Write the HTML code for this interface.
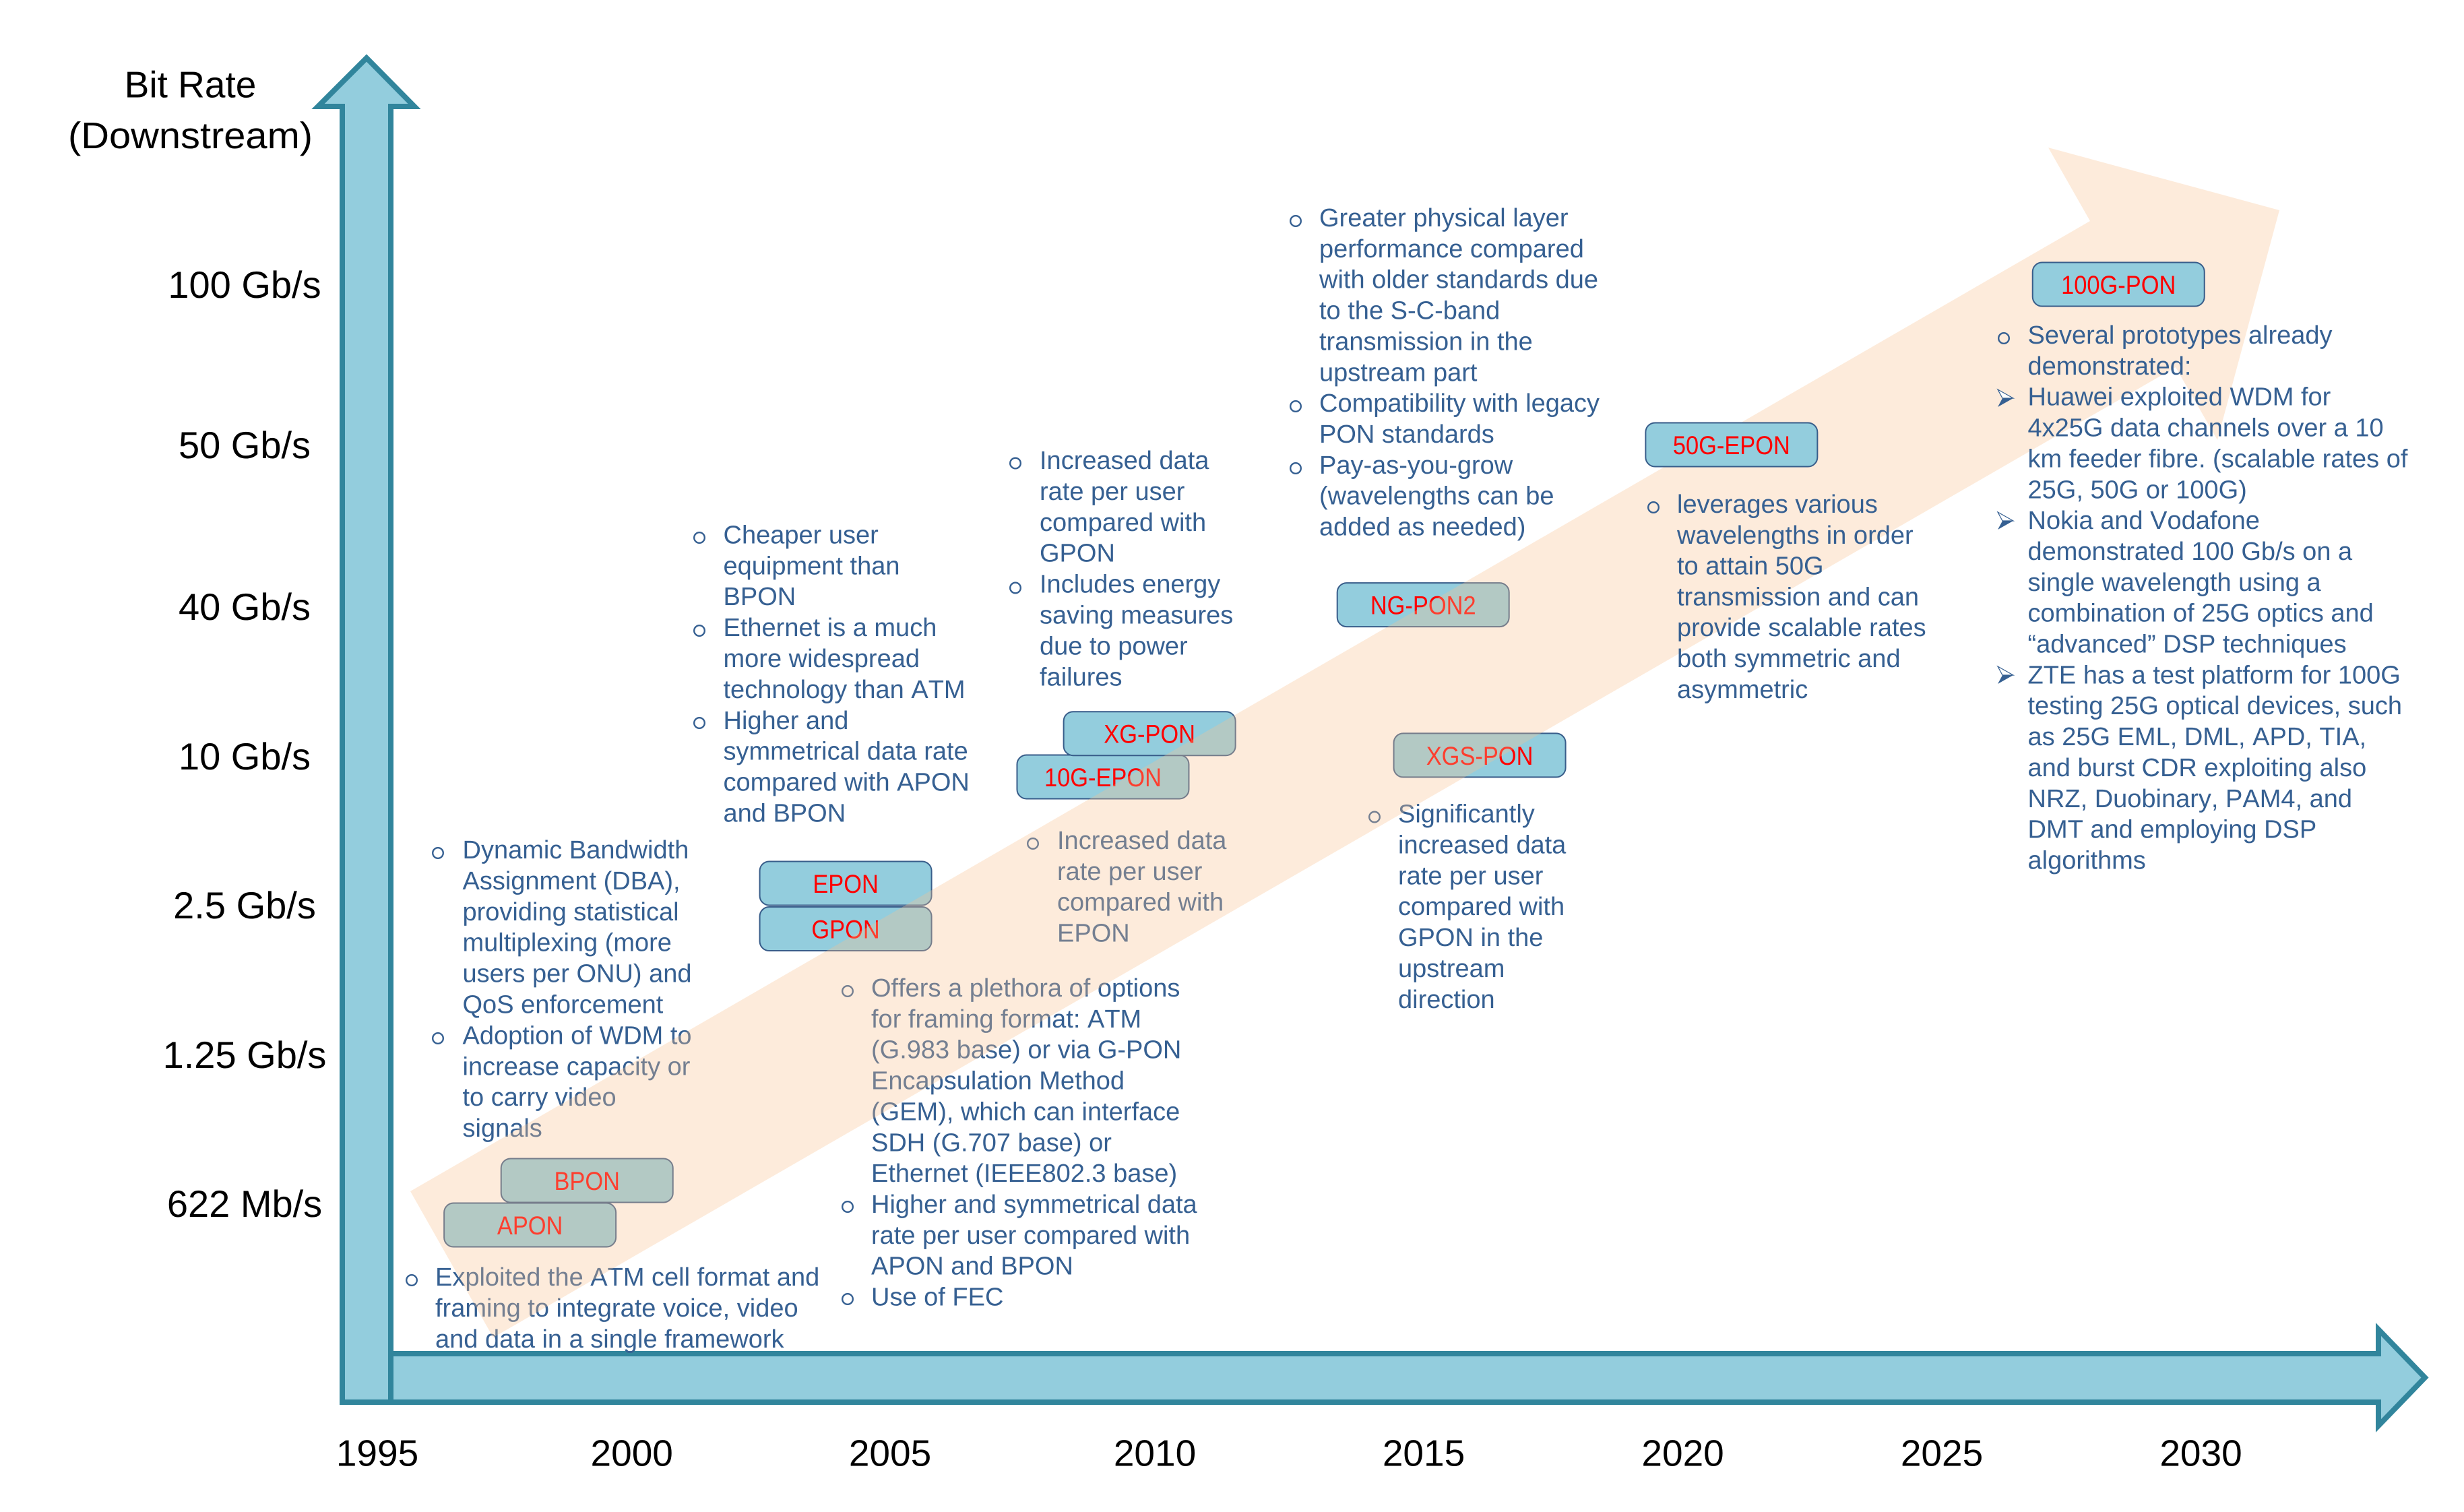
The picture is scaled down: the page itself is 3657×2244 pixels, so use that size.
<!DOCTYPE html>
<html lang="en">
<head>
<meta charset="utf-8">
<title>PON standards evolution timeline</title>
<style>
html,body{margin:0;padding:0;background:#fff;width:3657px;height:2244px;overflow:hidden}
svg{display:block}
text{font-family:"Liberation Sans",Arial,sans-serif;text-rendering:geometricPrecision;font-kerning:none}
.note{font-size:38px;fill:#366092}
.bullet{fill:none;stroke:#366092;stroke-width:2.4}
.axis-label{font-size:55px;fill:#000}
.axis-shape{fill:#93CDDD;stroke:#31859C;stroke-width:8;stroke-miterlimit:10;stroke-linejoin:miter}
</style>
</head>
<body>
<svg xmlns="http://www.w3.org/2000/svg" width="3657" height="2244" viewBox="0 0 3657 2244">
<rect width="3657" height="2244" fill="#fff"/>

<path class="axis-shape" d="M580 2009H3530V1973L3599 2044.5L3530 2116V2081H580Z"/>
<path class="axis-shape" d="M508 2081V158H472L544 86L615 158H580V2081Z"/>

<g id="boxes-behind"></g>

<g>
<circle class="bullet" cx="611" cy="1900" r="7.8"/>
<text class="note" y="1908"><tspan x="646" dy="0">Exploited the ATM cell format and</tspan><tspan x="646" dy="45.9">framing to integrate voice, video</tspan><tspan x="646" dy="45.9">and data in a single framework</tspan></text>
</g>

<g>
<circle class="bullet" cx="650" cy="1266" r="7.8"/>
<circle class="bullet" cx="650" cy="1541" r="7.8"/>
<text class="note" y="1274"><tspan x="686.5" dy="0">Dynamic Bandwidth</tspan><tspan x="686.5" dy="45.9">Assignment (DBA),</tspan><tspan x="686.5" dy="45.9">providing statistical</tspan><tspan x="686.5" dy="45.9">multiplexing (more</tspan><tspan x="686.5" dy="45.9">users per ONU) and</tspan><tspan x="686.5" dy="45.9">QoS enforcement</tspan><tspan x="686.5" dy="45.9">Adoption of WDM to</tspan><tspan x="686.5" dy="45.9">increase capacity or</tspan><tspan x="686.5" dy="45.9">to carry video</tspan><tspan x="686.5" dy="45.9">signals</tspan></text>
</g>

<g>
<circle class="bullet" cx="1038" cy="798" r="7.8"/>
<circle class="bullet" cx="1038" cy="936" r="7.8"/>
<circle class="bullet" cx="1038" cy="1073" r="7.8"/>
<text class="note" y="806.4"><tspan x="1073.5" dy="0">Cheaper user</tspan><tspan x="1073.5" dy="45.9">equipment than</tspan><tspan x="1073.5" dy="45.9">BPON</tspan><tspan x="1073.5" dy="45.9">Ethernet is a much</tspan><tspan x="1073.5" dy="45.9">more widespread</tspan><tspan x="1073.5" dy="45.9">technology than ATM</tspan><tspan x="1073.5" dy="45.9">Higher and</tspan><tspan x="1073.5" dy="45.9">symmetrical data rate</tspan><tspan x="1073.5" dy="45.9">compared with APON</tspan><tspan x="1073.5" dy="45.9">and BPON</tspan></text>
</g>

<g>
<circle class="bullet" cx="1258" cy="1471" r="7.8"/>
<circle class="bullet" cx="1258" cy="1791" r="7.8"/>
<circle class="bullet" cx="1258" cy="1928" r="7.8"/>
<text class="note" y="1479"><tspan x="1293" dy="0">Offers a plethora of options</tspan><tspan x="1293" dy="45.85">for framing format: ATM</tspan><tspan x="1293" dy="45.85">(G.983 base) or via G-PON</tspan><tspan x="1293" dy="45.85">Encapsulation Method</tspan><tspan x="1293" dy="45.85">(GEM), which can interface</tspan><tspan x="1293" dy="45.85">SDH (G.707 base) or</tspan><tspan x="1293" dy="45.85">Ethernet (IEEE802.3 base)</tspan><tspan x="1293" dy="45.85">Higher and symmetrical data</tspan><tspan x="1293" dy="45.85">rate per user compared with</tspan><tspan x="1293" dy="45.85">APON and BPON</tspan><tspan x="1293" dy="45.85">Use of FEC</tspan></text>
</g>

<g>
<circle class="bullet" cx="1507" cy="687.5" r="7.8"/>
<circle class="bullet" cx="1507" cy="872.5" r="7.8"/>
<text class="note" y="696"><tspan x="1543" dy="0">Increased data</tspan><tspan x="1543" dy="45.9">rate per user</tspan><tspan x="1543" dy="45.9">compared with</tspan><tspan x="1543" dy="45.9">GPON</tspan><tspan x="1543" dy="45.9">Includes energy</tspan><tspan x="1543" dy="45.9">saving measures</tspan><tspan x="1543" dy="45.9">due to power</tspan><tspan x="1543" dy="45.9">failures</tspan></text>
</g>

<g>
<circle class="bullet" cx="1533" cy="1252" r="7.8"/>
<text class="note" y="1260"><tspan x="1569" dy="0">Increased data</tspan><tspan x="1569" dy="45.8">rate per user</tspan><tspan x="1569" dy="45.8">compared with</tspan><tspan x="1569" dy="45.8">EPON</tspan></text>
</g>

<g>
<circle class="bullet" cx="1923" cy="328" r="7.8"/>
<circle class="bullet" cx="1923" cy="603" r="7.8"/>
<circle class="bullet" cx="1923" cy="695" r="7.8"/>
<text class="note" y="336"><tspan x="1958" dy="0">Greater physical layer</tspan><tspan x="1958" dy="45.85">performance compared</tspan><tspan x="1958" dy="45.85">with older standards due</tspan><tspan x="1958" dy="45.85">to the S-C-band</tspan><tspan x="1958" dy="45.85">transmission in the</tspan><tspan x="1958" dy="45.85">upstream part</tspan><tspan x="1958" dy="45.85">Compatibility with legacy</tspan><tspan x="1958" dy="45.85">PON standards</tspan><tspan x="1958" dy="45.85">Pay-as-you-grow</tspan><tspan x="1958" dy="45.85">(wavelengths can be</tspan><tspan x="1958" dy="45.85">added as needed)</tspan></text>
</g>

<g>
<circle class="bullet" cx="2040" cy="1212.5" r="7.8"/>
<text class="note" y="1220.5"><tspan x="2075" dy="0">Significantly</tspan><tspan x="2075" dy="45.9">increased data</tspan><tspan x="2075" dy="45.9">rate per user</tspan><tspan x="2075" dy="45.9">compared with</tspan><tspan x="2075" dy="45.9">GPON in the</tspan><tspan x="2075" dy="45.9">upstream</tspan><tspan x="2075" dy="45.9">direction</tspan></text>
</g>

<polygon fill="#FAC08F" fill-opacity="0.32" points="609,1768 3102,328 3040,219 3383,312 3291,653 3229,545 732,1985"/>

<g id="boxes-front"></g>

<g>
<circle class="bullet" cx="2454" cy="753" r="7.8"/>
<text class="note" y="761"><tspan x="2489" dy="0">leverages various</tspan><tspan x="2489" dy="45.8">wavelengths in order</tspan><tspan x="2489" dy="45.8">to attain 50G</tspan><tspan x="2489" dy="45.8">transmission and can</tspan><tspan x="2489" dy="45.8">provide scalable rates</tspan><tspan x="2489" dy="45.8">both symmetric and</tspan><tspan x="2489" dy="45.8">asymmetric</tspan></text>
</g>

<g>
<circle class="bullet" cx="2974" cy="502" r="7.8"/>
<g transform="translate(2965,578)"><path d="M0 0L23 13L7 13Z" fill="#fff" stroke="#366092" stroke-width="1.2"/><path d="M0 26L23 13L7 13Z" fill="#366092"/></g>
<g transform="translate(2965,760)"><path d="M0 0L23 13L7 13Z" fill="#fff" stroke="#366092" stroke-width="1.2"/><path d="M0 26L23 13L7 13Z" fill="#366092"/></g>
<g transform="translate(2965,989)"><path d="M0 0L23 13L7 13Z" fill="#fff" stroke="#366092" stroke-width="1.2"/><path d="M0 26L23 13L7 13Z" fill="#366092"/></g>
<text class="note" y="510"><tspan x="3009.5" dy="0">Several prototypes already</tspan><tspan x="3009.5" dy="45.85">demonstrated:</tspan><tspan x="3009.5" dy="45.85">Huawei exploited WDM for</tspan><tspan x="3009.5" dy="45.85">4x25G data channels over a 10</tspan><tspan x="3009.5" dy="45.85">km feeder fibre. (scalable rates of</tspan><tspan x="3009.5" dy="45.85">25G, 50G or 100G)</tspan><tspan x="3009.5" dy="45.85">Nokia and Vodafone</tspan><tspan x="3009.5" dy="45.85">demonstrated 100 Gb/s on a</tspan><tspan x="3009.5" dy="45.85">single wavelength using a</tspan><tspan x="3009.5" dy="45.85">combination of 25G optics and</tspan><tspan x="3009.5" dy="45.85">“advanced” DSP techniques</tspan><tspan x="3009.5" dy="45.85">ZTE has a test platform for 100G</tspan><tspan x="3009.5" dy="45.85">testing 25G optical devices, such</tspan><tspan x="3009.5" dy="45.85">as 25G EML, DML, APD, TIA,</tspan><tspan x="3009.5" dy="45.85">and burst CDR exploiting also</tspan><tspan x="3009.5" dy="45.85">NRZ, Duobinary, PAM4, and</tspan><tspan x="3009.5" dy="45.85">DMT and employing DSP</tspan><tspan x="3009.5" dy="45.85">algorithms</tspan></text>
</g>

<text class="axis-label" x="282.5" y="144.5" text-anchor="middle">Bit Rate</text>
<text class="axis-label" x="282.5" y="220" text-anchor="middle" textLength="363" lengthAdjust="spacingAndGlyphs">(Downstream)</text>

<g id="year-ticks"></g>
<g id="rate-ticks"></g>
</svg>

<script>
const yearTicks = [1995, 2000, 2005, 2010, 2015, 2020, 2025, 2030];
const rateTicks = ["622 Mb/s", "1.25 Gb/s", "2.5 Gb/s", "10 Gb/s", "40 Gb/s", "50 Gb/s", "100 Gb/s"];
const standardNames = ["APON", "BPON", "GPON", "EPON", "10G-EPON", "XG-PON", "XGS-PON", "NG-PON2", "50G-EPON", "100G-PON"];
const standardYears = [1998.0, 1999.12, 2004.14, 2004.14, 2009.02, 2009.9, 2016.08, 2014.99, 2020.94, 2028.41];
const standardRateLevels = [-0.145, 0.154, 1.84, 2.145, 2.86, 3.15, 3.005, 4.01, 5.0, 6.0];
const frontStandards = ["50G-EPON", "100G-PON"];

function interpolate(stops, t) {
  const i = Math.max(0, Math.min(stops.length - 2, Math.floor(t)));
  return stops[i] + (stops[i + 1] - stops[i]) * (t - i);
}
/* hand-drawn axes: tick spacing in the slide is slightly uneven, so each axis is calibrated piecewise */
function xAxis(year) {
  return interpolate([560, 937.7, 1321, 1714, 2113, 2497.6, 2882, 3266.5], (year - 1995) / 5);
}
function yAxis(level) {
  return interpolate([1786, 1565, 1343, 1122, 900, 660, 422], level);
}

const NS = "http://www.w3.org/2000/svg";
function make(tag, attrs, parent) {
  const el = document.createElementNS(NS, tag);
  for (const k in attrs) el.setAttribute(k, attrs[k]);
  parent.appendChild(el);
  return el;
}

const yearGroup = document.getElementById("year-ticks");
yearTicks.forEach(function (year) {
  const t = make("text", { class: "axis-label", x: xAxis(year), y: 2175.5, "text-anchor": "middle" }, yearGroup);
  
  
  t.textContent = String(year);
});

const rateGroup = document.getElementById("rate-ticks");
rateTicks.forEach(function (label, level) {
  const t = make("text", { class: "axis-label", x: 363, y: yAxis(level) + 20, "text-anchor": "middle", style: "font-size:56px" }, rateGroup);
  
  
  t.textContent = label;
});

const BOX_W = 255, BOX_H = 65;
standardNames.forEach(function (name, i) {
  const parent = document.getElementById(frontStandards.indexOf(name) >= 0 ? "boxes-front" : "boxes-behind");
  const cx = xAxis(standardYears[i]);
  const cy = yAxis(standardRateLevels[i]);
  const g = make("g", {}, parent);
  
  
  const r = make("rect", { x: cx - BOX_W / 2, y: cy - BOX_H / 2, width: BOX_W, height: BOX_H, rx: 14, ry: 14, fill: "#93CDDD", stroke: "#385D8A", "stroke-width": 2 }, g);
  
  
  const t = make("text", { transform: "translate(" + cx + "," + (cy + 14) + ") scale(0.93,1.04)", "text-anchor": "middle", fill: "#FF0000", style: "font-size:37px" }, g);
  
  
  t.textContent = name;
});
</script>
</body>
</html>
